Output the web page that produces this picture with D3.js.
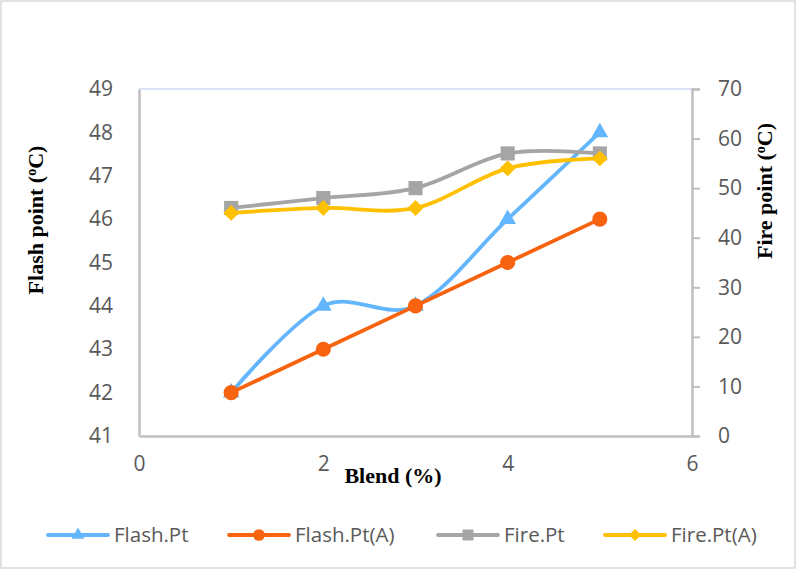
<!DOCTYPE html>
<html>
<head>
<meta charset="utf-8">
<script src="https://cdn.jsdelivr.net/npm/d3@7"></script>
<style>
  body { margin: 0; background: #fff; }
  svg { display: block; }
  .tick text { font-family: 'Open Sans', sans-serif; font-size: 21px; fill: #595959; }
  .title { font-family: 'Liberation Serif', 'Times New Roman', serif; font-weight: bold; font-size: 22px; fill: #000; }
  .legend text { font-family: 'Open Sans', sans-serif; font-size: 20.5px; fill: #595959; }
</style>
</head>
<body>
<div id="chart"></div>
<script>
// data
let blend = [1, 2, 3, 4, 5];
let flashPt = [42, 44, 44, 46, 48];
let flashPtA = [42, 43, 44, 45, 46];
let firePt = [46, 48, 50, 57, 57];
let firePtA = [45, 46, 46, 54, 56];

let xTicks = [0, 2, 4, 6];
let leftTicks = [41, 42, 43, 44, 45, 46, 47, 48, 49];
let rightTicks = [0, 10, 20, 30, 40, 50, 60, 70];

let width = 797, height = 570;
let plot = {left: 139, right: 692, top: 89, bottom: 436};

let svg = d3.select('#chart').append('svg')
  .attr('width', width).attr('height', height);

// outer chart border
svg.append('rect')
  .attr('x', 1).attr('y', 1)
  .attr('width', 794).attr('height', 567)
  .attr('fill', 'none').attr('stroke', '#d9d9d9').attr('stroke-width', 1.5);

let x = d3.scaleLinear().domain([0, 6]).range([plot.left, plot.right]);
let yL = d3.scaleLinear().domain([41, 49]).range([plot.bottom, plot.top]);
let yR = d3.scaleLinear().domain([0, 70]).range([plot.bottom, plot.top]);

// plot area top edge
svg.append('line')
  .attr('x1', plot.left).attr('x2', plot.right)
  .attr('y1', plot.top).attr('y2', plot.top)
  .attr('stroke', '#dae3f3').attr('stroke-width', 2);

let gx = svg.append('g')
  .attr('transform', 'translate(0,' + plot.bottom + ')')
  .call(d3.axisBottom(x).tickValues(xTicks).tickSize(0).tickPadding(20).tickFormat(d3.format('d')));
gx.select('.domain').attr('stroke', '#bfbfbf').attr('stroke-width', 2.5);

let gl = svg.append('g')
  .attr('transform', 'translate(' + plot.left + ',0)')
  .call(d3.axisLeft(yL).tickValues(leftTicks).tickSize(0).tickPadding(26).tickFormat(d3.format('d')));
gl.select('.domain').attr('stroke', '#bfbfbf').attr('stroke-width', 2.5);

let gr = svg.append('g')
  .attr('transform', 'translate(' + plot.right + ',0)')
  .call(d3.axisRight(yR).tickValues(rightTicks).tickSizeInner(8).tickSizeOuter(8).tickPadding(18).tickFormat(d3.format('d')));
gr.select('.domain').attr('stroke', '#bfbfbf').attr('stroke-width', 2.5);
gr.selectAll('.tick line').attr('stroke', '#bfbfbf').attr('stroke-width', 2);

// axis titles
let t1 = svg.append('text').attr('class', 'title')
  .attr('transform', 'translate(43,220) rotate(-90)')
  .attr('text-anchor', 'middle');
t1.append('tspan').text('Flash point (');
t1.append('tspan').attr('font-size', '14px').attr('dy', -7).text('o');
t1.append('tspan').attr('dy', 7).text('C)');

let t2 = svg.append('text').attr('class', 'title')
  .attr('transform', 'translate(772,191) rotate(-90)')
  .attr('text-anchor', 'middle');
t2.append('tspan').text('Fire point (');
t2.append('tspan').attr('font-size', '14px').attr('dy', -7).text('o');
t2.append('tspan').attr('dy', 7).text('C)');

svg.append('text').attr('class', 'title')
  .attr('x', 393).attr('y', 483)
  .attr('text-anchor', 'middle')
  .text('Blend (%)');

// series; diamond = square turned 45 degrees
let series = [
  {name: 'Flash.Pt', values: flashPt, y: yL, color: '#63b6fc', smooth: true, symbol: d3.symbolTriangle, size: 120, rot: 0},
  {name: 'Flash.Pt(A)', values: flashPtA, y: yL, color: '#f7630f', smooth: false, symbol: d3.symbolCircle, size: 180, rot: 0},
  {name: 'Fire.Pt', values: firePt, y: yR, color: '#a5a5a5', smooth: true, symbol: d3.symbolSquare, size: 200, rot: 0},
  {name: 'Fire.Pt(A)', values: firePtA, y: yR, color: '#ffc000', smooth: true, symbol: d3.symbolSquare, size: 125, rot: 45}
];

let gSeries = svg.append('g');

series.forEach(s => {
  let pts = blend.map((b, i) => [x(b), s.y(s.values[i])]);
  let line = d3.line().curve(s.smooth ? d3.curveCardinal.tension(0) : d3.curveLinear);
  let g = gSeries.append('g');
  g.append('path')
    .attr('d', line(pts))
    .attr('fill', 'none')
    .attr('stroke', s.color)
    .attr('stroke-width', 3.8)
    .attr('stroke-linecap', 'round');
  g.selectAll('path.mark')
    .data(pts)
    .enter().append('path')
    .attr('class', 'mark')
    .attr('transform', d => 'translate(' + d[0] + ',' + d[1] + ') rotate(' + s.rot + ')')
    .attr('d', d3.symbol().type(s.symbol).size(s.size))
    .attr('fill', s.color);
});

// legend
let legendX = [48, 229, 438, 605];
let legend = svg.append('g').attr('class', 'legend');
series.forEach((s, i) => {
  let g = legend.append('g').attr('transform', 'translate(' + legendX[i] + ',535)');
  g.append('line')
    .attr('x1', 0).attr('x2', 60)
    .attr('stroke', s.color).attr('stroke-width', 3.8).attr('stroke-linecap', 'round');
  g.append('path')
    .attr('transform', 'translate(30,0) rotate(' + s.rot + ')')
    .attr('d', d3.symbol().type(s.symbol).size(s.size * 0.6))
    .attr('fill', s.color);
  g.append('text')
    .attr('x', 66).attr('y', 0).attr('dy', '0.35em')
    .text(s.name);
});
</script>
</body>
</html>
